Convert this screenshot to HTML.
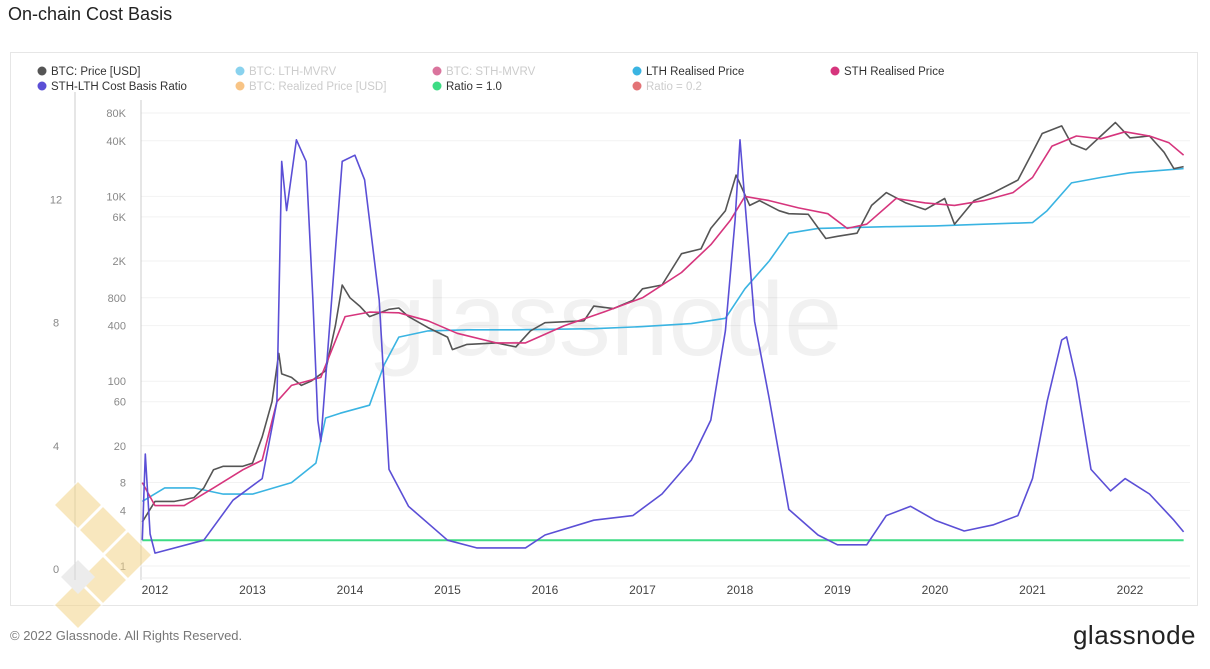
<!DOCTYPE html>
<html><head><meta charset="utf-8">
<style>
body{margin:0;width:1210px;height:669px;background:#fff;font-family:"Liberation Sans",sans-serif;overflow:hidden;position:relative}
#title{position:absolute;left:8px;top:4px;font-size:18px;color:#222}
#frame{position:absolute;left:10px;top:52px;width:1186px;height:552px;border:1px solid #e6e6e6}
#footer{position:absolute;left:10px;top:628px;font-size:13px;color:#777}
#brand{position:absolute;right:14px;top:620px;font-size:26px;color:#222;letter-spacing:0.5px}
svg{position:absolute;left:0;top:0}
</style></head><body>
<div id="title">On-chain Cost Basis</div>
<div id="frame"></div>
<svg id="chart" width="1210" height="669"></svg>
<div id="footer">© 2022 Glassnode. All Rights Reserved.</div>
<div id="brand">glassnode</div>
<script>
const priceYears=[2011.87,2012.0,2012.1,2012.2,2012.4,2012.5,2012.6,2012.7,2012.9,2013.0,2013.1,2013.2,2013.27,2013.3,2013.4,2013.5,2013.6,2013.75,2013.85,2013.92,2014.0,2014.1,2014.2,2014.4,2014.5,2014.6,2014.8,2015.0,2015.05,2015.2,2015.5,2015.7,2015.85,2016.0,2016.4,2016.5,2016.7,2016.9,2017.0,2017.2,2017.4,2017.6,2017.7,2017.85,2017.96,2018.1,2018.2,2018.4,2018.5,2018.7,2018.88,2019.0,2019.2,2019.35,2019.5,2019.7,2019.9,2020.1,2020.2,2020.4,2020.6,2020.85,2021.0,2021.1,2021.3,2021.4,2021.55,2021.7,2021.85,2022.0,2022.2,2022.35,2022.45,2022.55];
const priceValues=[3,5,5,5,5.5,7,11,12,12,13,25,60,200,120,110,90,100,130,400,1100,800,650,500,600,620,500,380,300,220,250,260,235,350,430,450,650,610,750,1000,1100,2400,2700,4500,7000,17000,8000,9000,7000,6500,6400,3500,3700,4000,8000,11000,8500,7200,9500,5000,9000,11000,15000,30000,48000,58000,37000,32000,45000,63000,43000,45000,30000,20000,21000];
const sthYears=[2011.87,2012.0,2012.3,2012.6,2012.9,2013.1,2013.25,2013.4,2013.7,2013.95,2014.2,2014.5,2014.8,2015.1,2015.5,2015.8,2016.2,2016.6,2017.0,2017.4,2017.7,2017.9,2018.05,2018.3,2018.6,2018.9,2019.1,2019.3,2019.6,2019.9,2020.2,2020.5,2020.8,2021.0,2021.2,2021.45,2021.7,2021.95,2022.2,2022.4,2022.55];
const sthValues=[8,4.5,4.5,7,11,14,60,90,110,500,560,550,450,330,260,260,400,560,800,1500,3000,5500,10000,9000,7500,6500,4500,5000,9500,8500,8000,9000,11000,16000,35000,45000,42000,50000,45000,38000,28000];
const lthYears=[2011.87,2012.1,2012.4,2012.7,2013.0,2013.4,2013.65,2013.75,2013.9,2014.2,2014.35,2014.5,2014.8,2015.2,2015.7,2016.5,2017.0,2017.5,2017.85,2018.05,2018.3,2018.5,2018.8,2019.5,2020.0,2020.5,2021.0,2021.15,2021.4,2021.7,2022.0,2022.55];
const lthValues=[5,7,7,6,6,8,13,40,45,55,150,300,350,360,360,370,390,420,480,1000,2000,4000,4500,4700,4800,5000,5200,7000,14000,16000,18000,20000];
const ratioYears=[2011.87,2011.9,2011.95,2012.0,2012.5,2012.8,2013.1,2013.25,2013.3,2013.35,2013.45,2013.55,2013.62,2013.67,2013.7,2013.85,2013.92,2014.05,2014.15,2014.3,2014.4,2014.6,2015.0,2015.3,2015.8,2016.0,2016.5,2016.9,2017.2,2017.5,2017.7,2017.85,2017.95,2018.0,2018.05,2018.15,2018.3,2018.5,2018.8,2019.0,2019.3,2019.5,2019.75,2020.0,2020.3,2020.6,2020.85,2021.0,2021.15,2021.3,2021.35,2021.45,2021.6,2021.8,2021.95,2022.2,2022.45,2022.55];
const ratioValues=[1,3.8,1.2,0.58,1.0,2.3,3.0,5.5,13.3,11.7,14,13.3,8.8,4.9,4.2,10.4,13.3,13.5,12.7,8.8,3.3,2.1,1.0,0.75,0.75,1.17,1.65,1.8,2.5,3.6,4.9,7.8,11.4,14,12,8.1,5.6,2,1.17,0.85,0.85,1.8,2.1,1.65,1.3,1.5,1.8,3.0,5.5,7.5,7.6,6.2,3.3,2.6,3.0,2.5,1.65,1.27];
const priceTicks=[80000,40000,10000,6000,2000,800,400,100,60,20,8,4,1];
const priceTickLabels=["80K","40K","10K","6K","2K","800","400","100","60","20","8","4","1"];
const ratioTicks=[0,4,8,12];
const yearTicks=[2012,2013,2014,2015,2016,2017,2018,2019,2020,2021,2022];

const NS="http://www.w3.org/2000/svg";
const svg=document.getElementById('chart');
const xS=t=>155+(t-2012)*97.5;
const yP=p=>566-92.4*Math.log10(p);
const yR=r=>571-30.8*r;
function mk(tag,attrs,parent){const e=document.createElementNS(NS,tag);for(const k in attrs)e.setAttribute(k,attrs[k]);(parent||svg).appendChild(e);return e;}

priceTicks.forEach((p,i)=>{
  const g=mk('line',{x1:141,x2:1190,y1:yP(p),y2:yP(p),stroke:'#f2f2f2'});
  
  
  const t=mk('text',{x:126,y:yP(p)+4,'text-anchor':'end','font-size':11,fill:'#888'});
  t.textContent=priceTickLabels[i];
  
  
});
ratioTicks.forEach(r=>{
  const t=mk('text',{x:56,y:yR(r)+2,'text-anchor':'middle','font-size':11,fill:'#888'});
  t.textContent=r;
  
  
});
yearTicks.forEach(y=>{
  const t=mk('text',{x:xS(y),y:594,'text-anchor':'middle','font-size':12,fill:'#444'});
  t.textContent=y;
  
  
});
let a1=mk('line',{x1:75,x2:75,y1:92,y2:580,stroke:'#ccc'});

let a2=mk('line',{x1:141,x2:141,y1:100,y2:580,stroke:'#ccc'});

let a3=mk('line',{x1:141,x2:1190,y1:578,y2:578,stroke:'#eee'});


let wm=mk('text',{x:605,y:355,'text-anchor':'middle','font-size':104,fill:'#000','fill-opacity':0.055});
wm.textContent='glassnode';


function path(xs,vs,yf,color,w,name){
  const d=xs.map((t,i)=>(i?'L':'M')+xS(t).toFixed(1)+','+yf(vs[i]).toFixed(1)).join('');
  const p=mk('path',{d:d,fill:'none',stroke:color,'stroke-width':w,'stroke-linejoin':'round'});
  
  
}
let rl=mk('line',{x1:xS(2011.87),x2:xS(2022.55),y1:yR(1),y2:yR(1),stroke:'#3ddc84','stroke-width':2});

path(lthYears,lthValues,yP,'#3ab4e2',1.6,'lth-realised-price-line');
path(priceYears,priceValues,yP,'#555',1.6,'btc-price-line');
path(sthYears,sthValues,yP,'#d6357d',1.6,'sth-realised-price-line');
path(ratioYears,ratioValues,yR,'#5b4fd6',1.6,'cost-basis-ratio-line');

const legNames=["BTC: Price [USD]","BTC: LTH-MVRV","BTC: STH-MVRV","LTH Realised Price","STH Realised Price","STH-LTH Cost Basis Ratio","BTC: Realized Price [USD]","Ratio = 1.0","Ratio = 0.2"];
const legColors=['#555','#3ab4e2','#c2185b','#3ab4e2','#d6357d','#5b4fd6','#f39c33','#3ddc84','#d0161b'];
const legFaded=[false,true,true,false,false,false,true,false,true];
const legX=[42,240,437,637,835,42,240,437,637];
const legY=[71,71,71,71,71,86,86,86,86];
legNames.forEach((n,i)=>{
  const g=mk('g',{});
  
  
  mk('circle',{cx:legX[i],cy:legY[i],r:4.5,fill:legColors[i],opacity:legFaded[i]?0.6:1},g);
  const t=mk('text',{x:legX[i]+9,y:legY[i]+4,'font-size':11.5,fill:legFaded[i]?'#ccc':'#333'},g);
  t.textContent=n;
});

const lg=mk('g',{opacity:0.55});


[[78,505],[103,530],[128,555],[103,580],[78,605]].forEach(c=>{
  mk('polygon',{points:`${c[0]},${c[1]-24} ${c[0]+24},${c[1]} ${c[0]},${c[1]+24} ${c[0]-24},${c[1]}`,fill:'#f3d48a',stroke:'#fff','stroke-width':1.5},lg);
});
mk('polygon',{points:'78,560 95,577 78,594 61,577',fill:'#ddd'},lg);
</script>
</body></html>
